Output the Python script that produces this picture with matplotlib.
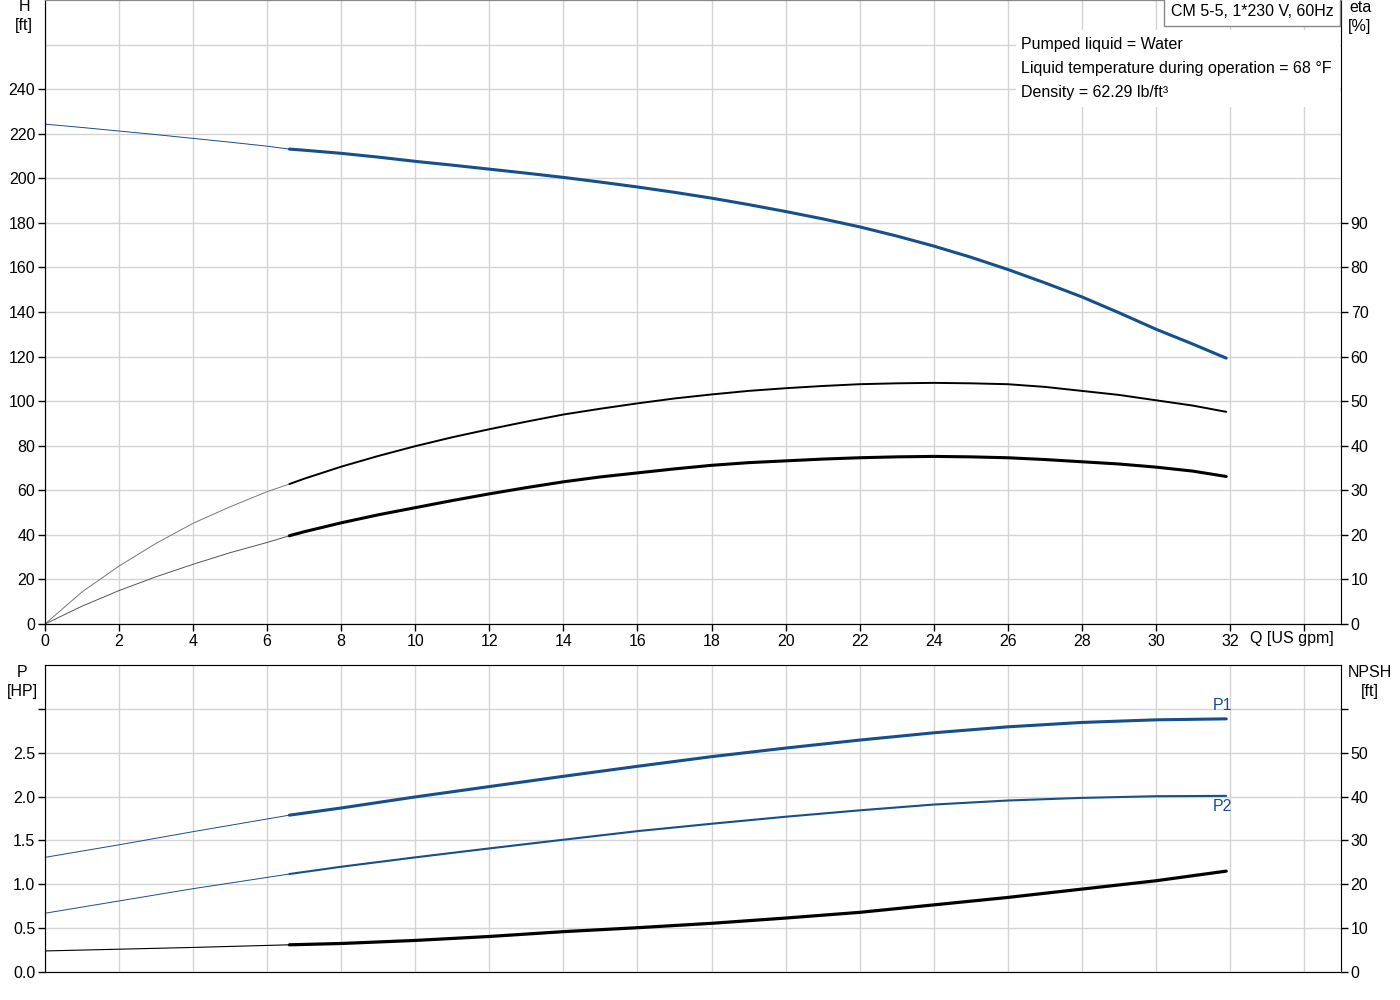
import matplotlib
matplotlib.use('Agg')
import matplotlib.pyplot as plt

plt.rcParams['font.family'] = ['Liberation Sans', 'DejaVu Sans']
plt.rcParams['font.size'] = 11.5

BLUE = '#154f8c'
GRID = '#d4d4d4'

# Q [US gpm] sample points (6.6 = start of the operating range)
q_thin = [0, 1, 2, 3, 4, 5, 6, 6.6]
q_thick = [6.6, 7, 8, 9, 10, 11, 12, 13, 14, 15, 16, 17, 18, 19, 20, 21, 22,
           23, 24, 25, 26, 27, 28, 29, 30, 31, 31.9]

# head H [ft]
h_thin = [224.3, 222.8, 221.2, 219.6, 217.9, 216.2, 214.4, 213.1]
h_thick = [213.1, 212.6, 211.2, 209.5, 207.6, 205.9, 204.1, 202.3, 200.4,
           198.3, 196.1, 193.7, 191.1, 188.2, 185.1, 181.8, 178.2, 174.1,
           169.6, 164.6, 159.1, 153.1, 146.8, 139.7, 132.3, 125.6, 119.3]

# efficiency curves eta [%]
eta1_thin = [0, 7.2, 13.0, 18.1, 22.6, 26.3, 29.7, 31.4]
eta1_thick = [31.4, 32.6, 35.3, 37.7, 39.9, 41.9, 43.7, 45.4, 47.0, 48.3,
              49.5, 50.6, 51.5, 52.3, 52.9, 53.4, 53.8, 54.0, 54.1, 54.0,
              53.8, 53.2, 52.3, 51.4, 50.2, 49.0, 47.6]
eta2_thin = [0, 4.0, 7.5, 10.6, 13.4, 16.0, 18.3, 19.8]
eta2_thick = [19.8, 20.7, 22.7, 24.5, 26.1, 27.7, 29.2, 30.6, 31.9, 33.0,
              33.9, 34.8, 35.6, 36.2, 36.6, 37.0, 37.3, 37.5, 37.6, 37.5,
              37.3, 36.9, 36.4, 35.9, 35.2, 34.3, 33.1]

# power P1, P2 [HP] and NPSH [ft]
q_low = [0, 2, 4, 6.6]
q_high = [6.6, 8, 10, 12, 14, 16, 18, 20, 22, 24, 26, 28, 30, 31.9]
p1_thin = [1.307, 1.45, 1.60, 1.788]
p1_thick = [1.788, 1.87, 1.996, 2.114, 2.231, 2.345, 2.455, 2.553, 2.644,
            2.727, 2.795, 2.845, 2.875, 2.886]
p2_thin = [0.67, 0.81, 0.95, 1.117]
p2_thick = [1.117, 1.20, 1.307, 1.409, 1.508, 1.606, 1.690, 1.770, 1.843,
            1.909, 1.955, 1.985, 2.004, 2.008]
npsh_thin = [4.8, 5.2, 5.6, 6.2]
npsh_thick = [6.2, 6.5, 7.2, 8.1, 9.2, 10.1, 11.1, 12.3, 13.6, 15.3, 17.0,
              18.9, 20.8, 23.0]

fig = plt.figure(figsize=(14, 10), dpi=100)


def px(x, y):
    return x / 1400, 1 - y / 1000


def style_axes(ax):
    ax.set_xlim(0, 35)
    ax.set_xticks(range(0, 35, 2))
    ax.grid(True, color=GRID, linewidth=1.0)
    ax.set_axisbelow(True)
    for s in ax.spines.values():
        s.set_color('#888888')


# ---- top panel: head and efficiency
ax1 = fig.add_axes([45 / 1400, 1 - 624 / 1000, 1296 / 1400, 624 / 1000])
style_axes(ax1)
ax1.set_ylim(0, 280)
ax1.set_yticks(range(0, 260, 20))
ax1.set_yticks([260], minor=True)
ax1.grid(True, which='minor', color=GRID, linewidth=1.0)
ax1.tick_params(axis='y', which='minor', length=0)
ax1.set_xticklabels([str(v) if v <= 32 else '' for v in range(0, 35, 2)])
ax1.tick_params(axis='both', direction='out', length=5, width=1, pad=2)
ax1.spines['left'].set_color('black')
ax1.spines['bottom'].set_color('black')

ax1.plot(q_thin, h_thin, color=BLUE, lw=0.7)
ax1.plot(q_thick, h_thick, color=BLUE, lw=2.2, solid_capstyle='round')

ax2 = ax1.twinx()
ax2.set_ylim(0, 140)
ax2.set_yticks(range(0, 100, 10))
ax2.tick_params(axis='y', direction='out', length=5, width=1, pad=2)
ax2.spines['right'].set_color('black')
ax2.spines['top'].set_color('#888888')
ax2.plot(q_thin, eta1_thin, color='#777777', lw=0.7)
ax2.plot(q_thick, eta1_thick, color='black', lw=1.4, solid_capstyle='round')
ax2.plot(q_thin, eta2_thin, color='#555555', lw=0.7)
ax2.plot(q_thick, eta2_thick, color='black', lw=2.2, solid_capstyle='round')

# ---- bottom panel: power and NPSH
ax3 = fig.add_axes([45 / 1400, 1 - 972 / 1000, 1296 / 1400, 307 / 1000])
style_axes(ax3)
ax3.set_ylim(0, 3.5)
ax3.set_yticks([0, 0.5, 1.0, 1.5, 2.0, 2.5, 3.0])
ax3.set_yticklabels(['0.0', '0.5', '1.0', '1.5', '2.0', '2.5', ''])
ax3.tick_params(axis='y', direction='out', length=5, width=1, pad=2)
ax3.tick_params(axis='x', length=0, labelbottom=False)
ax3.spines['left'].set_color('#555555')

ax3.plot(q_low, p1_thin, color=BLUE, lw=0.7)
ax3.plot(q_high, p1_thick, color=BLUE, lw=2.2, solid_capstyle='round')
ax3.plot(q_low, p2_thin, color=BLUE, lw=0.7)
ax3.plot(q_high, p2_thick, color=BLUE, lw=1.5, solid_capstyle='round')
ax3.text(31.8, p1_thick[-1] + 0.07, 'P1', color=BLUE, ha='center', va='bottom')
ax3.text(31.8, p2_thick[-1] - 0.03, 'P2', color=BLUE, ha='center', va='top')

ax4 = ax3.twinx()
ax4.set_ylim(0, 70)
ax4.set_yticks(range(0, 70, 10))
ax4.set_yticklabels([str(v) if v <= 50 else '' for v in range(0, 70, 10)])
ax4.tick_params(axis='y', direction='out', length=5, width=1, pad=2)
ax4.spines['right'].set_color('black')
ax4.plot(q_low, npsh_thin, color='black', lw=0.8)
ax4.plot(q_high, npsh_thick, color='black', lw=2.3, solid_capstyle='round')

# ---- axis titles and annotations
fig.text(*px(24, 16), 'H\n[ft]', ha='center', va='center', linespacing=1.3)
fig.text(*px(1360, 17), 'eta\n[%]', ha='center', va='center', linespacing=1.3)
fig.text(*px(1292, 639), 'Q [US gpm]', ha='center', va='center')
fig.text(*px(22, 682), 'P\n[HP]', ha='center', va='center', linespacing=1.3)
fig.text(*px(1370, 682), 'NPSH\n[ft]', ha='center', va='center', linespacing=1.3)

# white area behind the liquid info
fig.patches.append(plt.Rectangle(px(1016, 107), 324 / 1400, 77 / 1000,
                                 transform=fig.transFigure, facecolor='white',
                                 edgecolor='none', zorder=5))
fig.text(*px(1021, 44), 'Pumped liquid = Water', va='center', zorder=6)
fig.text(*px(1021, 68), 'Liquid temperature during operation = 68 \u00b0F',
         va='center', zorder=6)
fig.text(*px(1021, 92), 'Density = 62.29 lb/ft\u00b3', va='center', zorder=6)
fig.text(*px(1252, 12), 'CM 5-5, 1*230 V, 60Hz', ha='center', va='center',
         zorder=6, bbox=dict(boxstyle='square,pad=0.4', facecolor='white',
                             edgecolor='#888888', linewidth=1))

fig.savefig('out.png', dpi=100)
